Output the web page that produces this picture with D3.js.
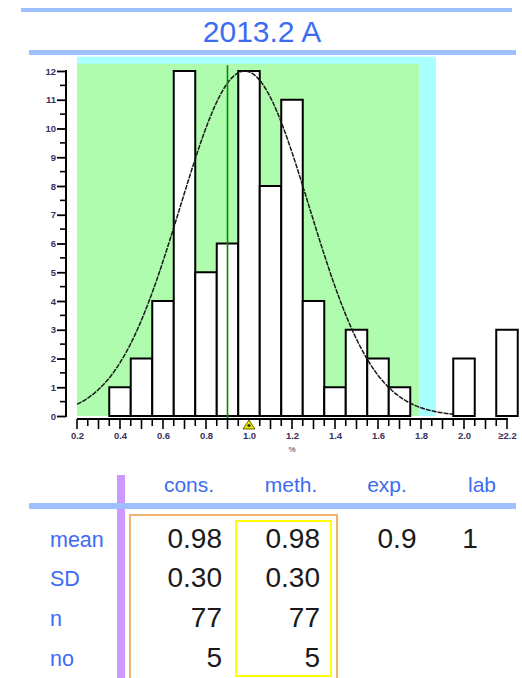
<!DOCTYPE html>
<html>
<head>
<meta charset="utf-8">
<script src="https://cdn.jsdelivr.net/npm/d3@7"></script>
<style>
  html, body { margin: 0; padding: 0; background: #fff; }
  svg { display: block; }
  text { font-family: "Liberation Sans", Arial, sans-serif; }
</style>
</head>
<body>
<div id="chart"></div>
<script>
// ---------- data ----------
const title = "2013.2 A";
const binCenters = [0.4, 0.5, 0.6, 0.7, 0.8, 0.9, 1.0, 1.1, 1.2, 1.3, 1.4, 1.5, 1.6, 1.7, 2.0, 2.2];
const counts     = [1,   2,   4,   12,  5,   6,   12,  8,   11,  4,   1,   3,   2,   1,   2,   3];
const binWidth = 0.1;
const xTickValues = [0.2, 0.4, 0.6, 0.8, 1.0, 1.2, 1.4, 1.6, 1.8, 2.0, 2.2];
const xTickLabels = ["0.2", "0.4", "0.6", "0.8", "1.0", "1.2", "1.4", "1.6", "1.8", "2.0", "≥2.2"];
const yTickValues = [0, 1, 2, 3, 4, 5, 6, 7, 8, 9, 10, 11, 12];
const xUnit = "%";
const greenRange = [0.2, 1.79];   // inner acceptance band
const cyanRange  = [0.2, 1.87];   // outer acceptance band
const expValue = 0.9;             // green vertical line
const labValue = 1.0;             // triangle marker
const meanValue = 0.98;
const sdValue = 0.30;

const colHeaders = ["cons.", "meth.", "exp.", "lab"];
const rowLabels  = ["mean", "SD", "n", "no"];
const consValues = ["0.98", "0.30", "77", "5"];
const methValues = ["0.98", "0.30", "77", "5"];
const expValues  = ["0.9", "", "", ""];
const labValues  = ["1", "", "", ""];

// ---------- drawing ----------
const W = 522, H = 678;
const svg = d3.select("#chart").append("svg").attr("width", W).attr("height", H);

const blue = "#3d6cf2";
const lineBlue = "#9fc0ff";

// title lines & text
svg.append("rect").attr("x", 21).attr("y", 8).attr("width", 491).attr("height", 4).attr("fill", lineBlue);
svg.append("text").attr("x", 262).attr("y", 42).attr("text-anchor", "middle")
  .attr("font-size", 30).attr("fill", blue).text(title);
svg.append("rect").attr("x", 29).attr("y", 50).attr("width", 487).attr("height", 5).attr("fill", lineBlue);

// scales
const x = d3.scaleLinear().domain([0.2, 2.2]).range([77, 507]);
const y = d3.scaleLinear().domain([0, 12]).range([416, 71]);

// background bands
svg.append("rect").attr("x", x(cyanRange[0])).attr("y", y(12.5))
  .attr("width", x(cyanRange[1]) - x(cyanRange[0])).attr("height", y(0) - y(12.5)).attr("fill", "#aaffff");
svg.append("rect").attr("x", x(greenRange[0])).attr("y", y(12.25))
  .attr("width", x(greenRange[1]) - x(greenRange[0])).attr("height", y(0) - y(12.25)).attr("fill", "#b0fcae");

// bars
svg.append("g").selectAll("rect").data(binCenters.map((c, i) => ({c, v: counts[i]})))
  .join("rect")
  .attr("x", d => x(d.c - binWidth / 2))
  .attr("y", d => y(d.v))
  .attr("width", d => x(d.c + binWidth / 2) - x(d.c - binWidth / 2))
  .attr("height", d => y(0) - y(d.v))
  .attr("fill", "#fff").attr("stroke", "#000").attr("stroke-width", 2);

// normal curve from mean & SD, scaled to tallest bar
const peak = d3.max(counts);
const curveX = d3.range(0.2, 1.955, 0.01);
const line = d3.line().x(d => x(d)).y(d => y(peak * Math.exp(-0.5 * Math.pow((d - meanValue) / sdValue, 2)))).curve(d3.curveBasis);
svg.append("path").datum(curveX).attr("d", line).attr("fill", "none")
  .attr("stroke", "#1a1a1a").attr("stroke-width", 1.5).attr("stroke-dasharray", "5,1");

// exp line
svg.append("line").attr("x1", x(expValue)).attr("x2", x(expValue)).attr("y1", y(12.2)).attr("y2", y(0) + 2)
  .attr("stroke", "#008a00").attr("stroke-width", 1.6);

// y axis
const yAxisX = 66;
svg.append("line").attr("x1", yAxisX).attr("x2", yAxisX).attr("y1", y(12) - 1).attr("y2", y(0) + 1)
  .attr("stroke", "#000").attr("stroke-width", 2);
const yMinor = d3.range(0.5, 12, 1);
svg.append("g").selectAll("line").data(yMinor).join("line")
  .attr("x1", yAxisX - 6).attr("x2", yAxisX).attr("y1", d => y(d)).attr("y2", d => y(d))
  .attr("stroke", "#000").attr("stroke-width", 1.6);
const yAxis = d3.axisLeft(y).tickValues(yTickValues).tickSize(9).tickSizeOuter(0).tickPadding(1).tickFormat(d3.format("d"));
const gy = svg.append("g").attr("transform", `translate(${yAxisX},0)`).call(yAxis);
gy.select(".domain").remove();
gy.selectAll(".tick line").attr("stroke", "#000").attr("stroke-width", 1.8);
gy.selectAll(".tick text").attr("font-size", 9.5).attr("font-weight", "bold").attr("fill", "#3a3060")
  .attr("font-family", "Liberation Sans, Arial, sans-serif");

// x axis
const xAxisY = 419;
svg.append("line").attr("x1", x(0.2)).attr("x2", x(2.205)).attr("y1", xAxisY).attr("y2", xAxisY)
  .attr("stroke", "#000").attr("stroke-width", 2);
const xMinor = d3.range(0, 40).map(i => 0.25 + i * 0.1).filter(v => v < 2.2);
svg.append("g").selectAll("line").data(xMinor).join("line")
  .attr("x1", d => x(d)).attr("x2", d => x(d)).attr("y1", xAxisY).attr("y2", xAxisY + 7)
  .attr("stroke", "#000").attr("stroke-width", 1.6);
const xMajor = d3.range(0, 21).map(i => +(0.2 + i * 0.1).toFixed(2));
svg.append("g").selectAll("line").data(xMajor).join("line")
  .attr("x1", d => x(d)).attr("x2", d => x(d)).attr("y1", xAxisY).attr("y2", xAxisY + 10)
  .attr("stroke", "#000").attr("stroke-width", 1.6);
const xAxis = d3.axisBottom(x).tickValues(xTickValues).tickSize(0).tickPadding(0)
  .tickFormat((d, i) => xTickLabels[i]);
const gx = svg.append("g").attr("transform", `translate(0,${xAxisY + 11})`).call(xAxis);
gx.select(".domain").remove();
gx.selectAll(".tick text").attr("font-size", 9.5).attr("font-weight", "bold").attr("fill", "#3a3060")
  .attr("dy", "0.9em").attr("font-family", "Liberation Sans, Arial, sans-serif");
svg.append("text").attr("x", x(1.2)).attr("y", 452).attr("text-anchor", "middle")
  .attr("font-size", 8).attr("fill", "#3a3060").text(xUnit);

// lab marker triangle
const tx = x(labValue);
svg.append("path").attr("d", `M${tx},${xAxisY + 1} L${tx - 6},${xAxisY + 10} L${tx + 6},${xAxisY + 10} Z`)
  .attr("fill", "#e6e600").attr("stroke", "#6b6b00").attr("stroke-width", 1);
svg.append("circle").attr("cx", tx).attr("cy", xAxisY + 6.5).attr("r", 1.6).attr("fill", "#333");

// ---------- table ----------
svg.append("rect").attr("x", 117).attr("y", 475).attr("width", 8).attr("height", H - 475).attr("fill", "#cc99ff");
svg.append("rect").attr("x", 29).attr("y", 503).attr("width", 487).attr("height", 6).attr("fill", lineBlue);

const headerX = [189, 291, 387, 482];
svg.append("g").selectAll("text").data(colHeaders).join("text")
  .attr("x", (d, i) => headerX[i]).attr("y", 492).attr("text-anchor", "middle")
  .attr("font-size", 21).attr("fill", blue).text(d => d);

const rowY = [548, 587, 627, 667];
svg.append("g").selectAll("text").data(rowLabels).join("text")
  .attr("x", 50).attr("y", (d, i) => rowY[i] - 1).attr("font-size", 21.5).attr("fill", blue).text(d => d);

// boxes
svg.append("rect").attr("x", 130).attr("y", 515).attr("width", 207).attr("height", 200)
  .attr("fill", "none").attr("stroke", "#f0b470").attr("stroke-width", 2);
svg.append("rect").attr("x", 236).attr("y", 521).attr("width", 95).attr("height", 155)
  .attr("fill", "none").attr("stroke", "#ffff00").attr("stroke-width", 2);

function valueCol(vals, xpos, anchor) {
  svg.append("g").selectAll("text").data(vals).join("text")
    .attr("x", xpos).attr("y", (d, i) => rowY[i]).attr("text-anchor", anchor)
    .attr("font-size", 28).attr("fill", "#1a1a1a").text(d => d);
}
valueCol(consValues, 222, "end");
valueCol(methValues, 320, "end");
valueCol(expValues, 397, "middle");
valueCol(labValues, 470, "middle");
</script>
</body>
</html>
